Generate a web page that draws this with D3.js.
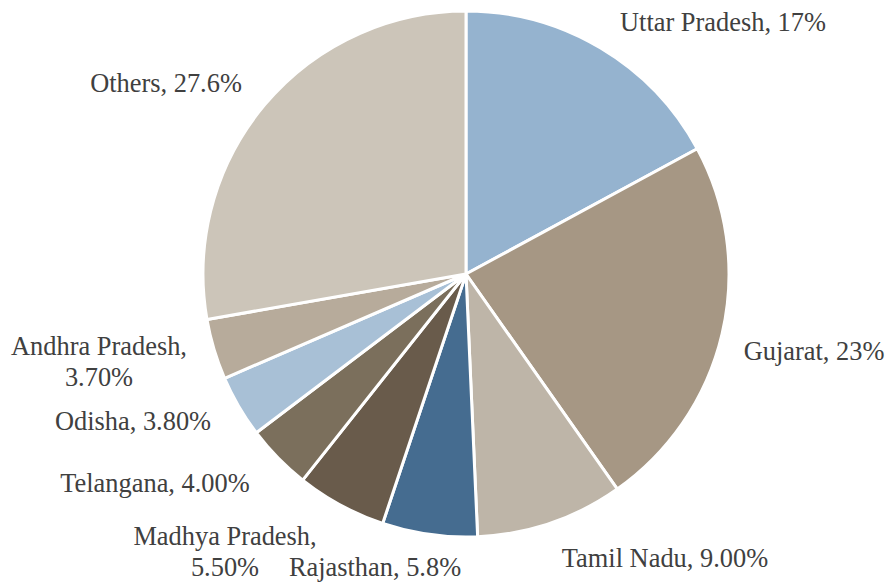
<!DOCTYPE html>
<html>
<head>
<meta charset="utf-8">
<script src="https://cdn.jsdelivr.net/npm/d3@7"></script>
<style>
   html, body { margin: 0; padding: 0; background: #fff; }
</style>
</head>
<body>
<div id="chart"></div>
<script>
"use strict";

// chart data
const states = [
   "Uttar Pradesh", "Gujarat", "Tamil Nadu", "Rajasthan", "Madhya Pradesh",
   "Telangana", "Odisha", "Andhra Pradesh", "Others"
];
const shares = [17, 23, 9.0, 5.8, 5.5, 4.0, 3.8, 3.7, 27.6];
const shareLabels = ["17%", "23%", "9.00%", "5.8%", "5.50%", "4.00%", "3.80%", "3.70%", "27.6%"];
const colours = [
   "#95B3CF", "#A69784", "#BEB5A8", "#456C90", "#695B4B",
   "#7B6F5C", "#A8C0D6", "#B7AB9B", "#CCC5B9"
];

(function () {
   const width = 886;
   const height = 583;
   const cx = 466;
   const cy = 274;
   const radius = 263;
   const fontSize = 26.4;

   // label placement (offset from pie centre) and whether to wrap onto two lines
   const labelLayout = {
      "Uttar Pradesh":  { x: 257, y: -252, wrap: false },
      "Gujarat":        { x: 348,  y: 77,  wrap: false },
      "Tamil Nadu":     { x: 199,  y: 284, wrap: false },
      "Rajasthan":      { x: -91,  y: 293, wrap: false },
      "Madhya Pradesh": { x: -241, y: 278, wrap: true },
      "Telangana":      { x: -311, y: 209, wrap: false },
      "Odisha":         { x: -333, y: 147, wrap: false },
      "Andhra Pradesh": { x: -367, y: 88,  wrap: true },
      "Others":         { x: -300, y: -191, wrap: false }
   };

   const rows = states.map((s, i) => ({
      name: s, value: shares[i], label: shareLabels[i], colour: colours[i]
   }));

   const svg = d3.select("#chart").append("svg")
      .attr("width", width)
      .attr("height", height);

   const g = svg.append("g")
      .attr("transform", `translate(${cx},${cy})`);

   const pie = d3.pie()
      .sort(null)
      .value(d => d.value);

   const arc = d3.arc()
      .innerRadius(0)
      .outerRadius(radius);

   const arcs = pie(rows);

   g.selectAll("path")
      .data(arcs)
      .enter()
      .append("path")
      .attr("d", arc)
      .attr("fill", d => d.data.colour)
      .attr("stroke", "#fff")
      .attr("stroke-width", 3)
      .attr("stroke-linejoin", "round");

   const labels = g.selectAll("g.label")
      .data(arcs)
      .enter()
      .append("g")
      .attr("class", "label")
      .attr("transform", d => {
         const p = labelLayout[d.data.name];
         return `translate(${p.x},${p.y})`;
      });

   labels.each(function (d) {
      const el = d3.select(this);
      const p = labelLayout[d.data.name];
      const lines = p.wrap ?
         [`${d.data.name},`, d.data.label] :
         [`${d.data.name}, ${d.data.label}`];
      const offset = -(lines.length - 1) / 2;

      lines.forEach((line, i) => {
         el.append("text")
            .attr("text-anchor", "middle")
            .attr("dy", `${(offset + i) * 1.16 + 0.33}em`)
            .style("font-family", '"Liberation Serif"')
            .style("font-size", `${fontSize}px`)
            .style("fill", "#404040")
            .text(line);
      });
   });
})();
</script>
</body>
</html>
